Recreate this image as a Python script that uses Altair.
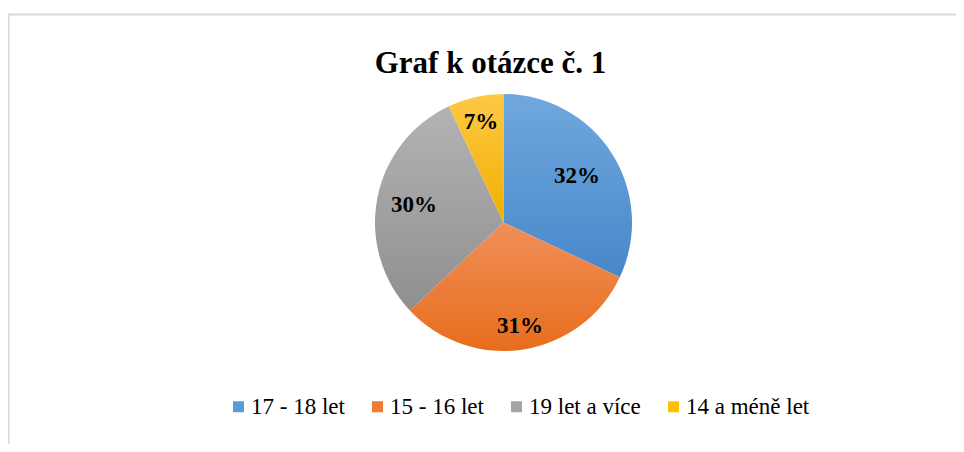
import math
import altair as alt
import pandas as pd

# ---- data ----
TITLE = "Graf k otázce č. 1"
CATEGORIES = ["17 - 18 let", "15 - 16 let", "19 let a více", "14 a méně let"]
PERCENTS = [32, 31, 30, 7]

# ---- styles ----
LEGEND_COLORS = ["#5b9bd5", "#ed7d31", "#a5a5a5", "#ffc000"]
GRAD_TOP = ["#70a8dd", "#f08f5a", "#b3b3b3", "#ffc845"]
GRAD_BOTTOM = ["#4787ca", "#e76d1c", "#8f8f8f", "#efb000"]
LABEL_RADIUS = [87, 105, 91, 103]
FONT = "Liberation Serif"

df = pd.DataFrame({
    "category": CATEGORIES,
    "value": PERCENTS,
    "order": list(range(len(CATEGORIES))),
})

cx, cy, R = 495.5, 214.5, 128.5
theta_scale = alt.Scale(domain=[0, 100], range=[0, 2 * math.pi])

base = (
    alt.Chart(df)
    .transform_window(cum="sum(value)", sort=[alt.SortField("order")], frame=[None, 0])
    .transform_calculate(
        start="datum.cum - datum.value",
        mid="datum.cum - datum.value / 2",
        label="datum.value + '%'",
    )
)

layers = []
for i, cat in enumerate(CATEGORIES):
    grad = {
        "gradient": "linear",
        "x1": 0, "y1": 0, "x2": 0, "y2": 1,
        "stops": [
            {"offset": 0, "color": GRAD_TOP[i]},
            {"offset": 1, "color": GRAD_BOTTOM[i]},
        ],
    }
    arc = (
        base.transform_filter(alt.datum.category == cat)
        .mark_arc(outerRadius=R, fill=grad, strokeWidth=0)
        .encode(
            theta=alt.Theta("start:Q", scale=theta_scale),
            theta2="cum:Q",
            x=alt.value(cx),
            y=alt.value(cy),
        )
    )
    layers.append(arc)

for i, cat in enumerate(CATEGORIES):
    txt = (
        base.transform_filter(alt.datum.category == cat)
        .mark_text(radius=LABEL_RADIUS[i], font=FONT, fontSize=23, fontWeight="bold",
                   color="black", align="center", baseline="middle")
        .encode(
            theta=alt.Theta("mid:Q", scale=theta_scale),
            text="label:N",
            x=alt.value(cx),
            y=alt.value(cy),
        )
    )
    layers.append(txt)

legend_layer = base.mark_point(shape="square", filled=True, opacity=0).encode(
    color=alt.Color(
        "category:N",
        scale=alt.Scale(domain=CATEGORIES, range=LEGEND_COLORS),
        legend=alt.Legend(
            orient="none", legendX=219, legendY=387, direction="horizontal",
            title=None, symbolType="square", symbolSize=121, symbolStrokeWidth=0,
            symbolOpacity=1, labelFont=FONT, labelFontSize=23, labelColor="black",
            labelOffset=1, columnPadding=21, padding=0, labelLimit=400,
        ),
    ),
    x=alt.value(cx),
    y=alt.value(cy),
)
layers.append(legend_layer)

title_layer = alt.Chart(pd.DataFrame({"t": [TITLE]})).mark_text(
    font=FONT, fontSize=31, fontWeight="bold", color="black",
    align="center", baseline="alphabetic",
).encode(text="t:N", x=alt.value(482.5), y=alt.value(65))
layers.append(title_layer)

frame_df = pd.DataFrame({"a": [0]})
top_rule = alt.Chart(frame_df).mark_rule(color="#d9d9d9", strokeWidth=2).encode(
    x=alt.value(-1), x2=alt.value(960), y=alt.value(6.5), y2=alt.value(6.5)
)
left_rule = alt.Chart(frame_df).mark_rule(color="#d9d9d9", strokeWidth=2).encode(
    x=alt.value(0.5), x2=alt.value(0.5), y=alt.value(6.5), y2=alt.value(440)
)
layers = [top_rule, left_rule] + layers

chart = (
    alt.layer(*layers)
    .properties(width=948, height=436, padding=0, autosize="none", background="white")
    .configure_view(stroke=None)
)

chart.save("out.html", embed_options={"renderer": "svg", "actions": False})
